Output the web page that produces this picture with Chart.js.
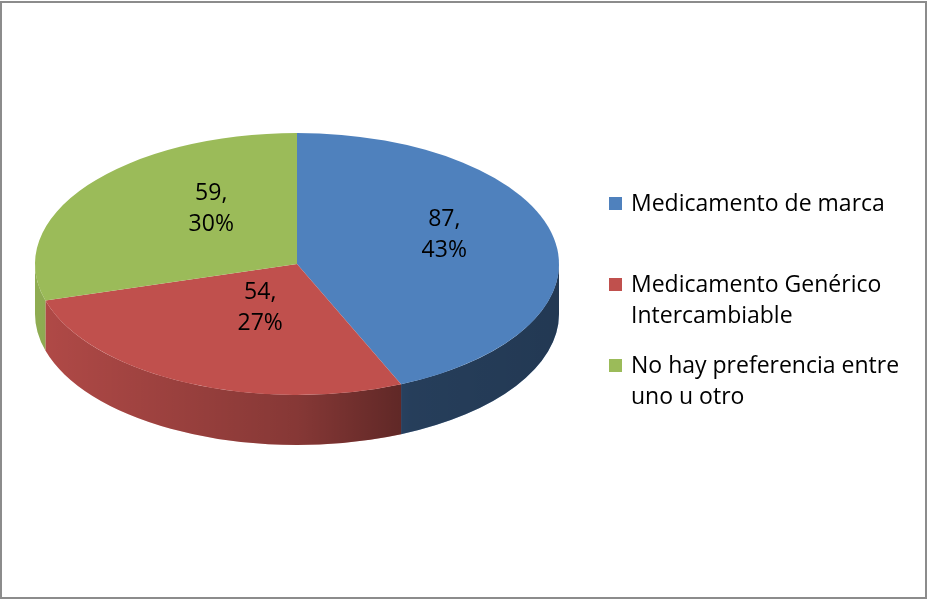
<!DOCTYPE html>
<html>
<head>
<meta charset="utf-8">
<script src="https://cdn.jsdelivr.net/npm/chart.js@4.4.0/dist/chart.umd.min.js"></script>
<style>
  body { margin: 0; background: #fff; }
  #wrap { position: relative; width: 930px; height: 599px; }
  #frame { position: absolute; left: 0; top: 1px; width: 923px; height: 594px; border: 2px solid #8c8c8c; pointer-events: none; }
  canvas { position: absolute; left: 0; top: 0; }
</style>
</head>
<body>
<div id="wrap">
  <canvas id="pie" width="930" height="599"></canvas>
  <div id="frame"></div>
</div>
<script>
let categories = [
  ['Medicamento de marca'],
  ['Medicamento Genérico', 'Intercambiable'],
  ['No hay preferencia entre', 'uno u otro']
];
let counts = [87, 54, 59];
let percents = [43, 27, 30];
let colors = ['#4f81bd', '#c0504d', '#9bbb59'];

const FONT = '23px "Open Sans", Lato, sans-serif';

// tilted pie: side walls first, then squash the top face into an ellipse
const pie3d = {
  id: 'pie3d',
  beforeDatasetsDraw(chart, args, opts) {
    const ctx = chart.ctx;
    const arcs = chart.getDatasetMeta(0).data;
    if (!arcs.length) return;
    const cx = arcs[0].x, cy = arcs[0].y, R = arcs[0].outerRadius;
    const ey = opts.centerY, ry = R * opts.tilt, d = opts.depth;

    const shade = ctx.createLinearGradient(cx - R, 0, cx + R, 0);
    shade.addColorStop(0, 'rgba(0,0,0,0.08)');
    shade.addColorStop(0.5, 'rgba(0,0,0,0.30)');
    shade.addColorStop(0.72, 'rgba(0,0,0,0.52)');
    shade.addColorStop(1, 'rgba(0,0,0,0.56)');

    arcs.forEach((arc, i) => {
      const a0 = Math.max(arc.startAngle, 0);
      const a1 = Math.min(arc.endAngle, Math.PI);
      if (a0 >= a1) return;
      ctx.beginPath();
      ctx.ellipse(cx, ey, R, ry, 0, a0, a1, false);
      ctx.lineTo(cx + R * Math.cos(a1), ey + d + ry * Math.sin(a1));
      ctx.ellipse(cx, ey + d, R, ry, 0, a1, a0, true);
      ctx.closePath();
      ctx.fillStyle = colors[i];
      ctx.fill();
      ctx.fillStyle = shade;
      ctx.fill();
    });

    ctx.save();
    ctx.translate(cx, ey);
    ctx.scale(1, opts.tilt);
    ctx.translate(-cx, -cy);
  },
  afterDatasetsDraw(chart, args, opts) {
    const ctx = chart.ctx;
    ctx.restore();
    const arcs = chart.getDatasetMeta(0).data;
    if (!arcs.length) return;
    const cx = arcs[0].x, R = arcs[0].outerRadius;
    const ey = opts.centerY, ry = R * opts.tilt;
    ctx.save();
    ctx.font = FONT;
    ctx.fillStyle = '#000';
    ctx.textAlign = 'center';
    ctx.textBaseline = 'middle';
    arcs.forEach((arc, i) => {
      const mid = (arc.startAngle + arc.endAngle) / 2;
      const x = cx + 0.5 * R * Math.cos(mid) + opts.labelDx;
      const y = ey + 0.5 * ry * Math.sin(mid) + opts.labelDy;
      ctx.fillText(counts[i] + ',', x, y - 15);
      ctx.fillText(percents[i] + '%', x, y + 16);
    });
    ctx.restore();
  }
};

// legend at the right, one square per category
const sideLegend = {
  id: 'sideLegend',
  afterDraw(chart, args, opts) {
    const ctx = chart.ctx;
    ctx.save();
    ctx.font = FONT;
    ctx.textBaseline = 'middle';
    ctx.textAlign = 'left';
    categories.forEach((lines, i) => {
      const y = opts.top + i * opts.step;
      ctx.fillStyle = colors[i];
      ctx.fillRect(opts.left, y - 7, 13, 13);
      ctx.fillStyle = '#000';
      lines.forEach((t, j) => ctx.fillText(t, opts.left + 22, y + j * 31));
    });
    ctx.restore();
  }
};

new Chart(document.getElementById('pie').getContext('2d'), {
  type: 'pie',
  data: {
    labels: categories,
    datasets: [{
      data: counts,
      backgroundColor: colors,
      borderWidth: 0
    }]
  },
  options: {
    responsive: false,
    animation: false,
    layout: { padding: { left: 35, top: 37, right: 371, bottom: 38 } },
    plugins: {
      legend: { display: false },
      tooltip: { enabled: false },
      pie3d: { centerY: 264, tilt: 0.5, depth: 50, labelDx: 19, labelDy: -16 },
      sideLegend: { left: 609, top: 204, step: 81 }
    }
  },
  plugins: [pie3d, sideLegend]
});
</script>
</body>
</html>
